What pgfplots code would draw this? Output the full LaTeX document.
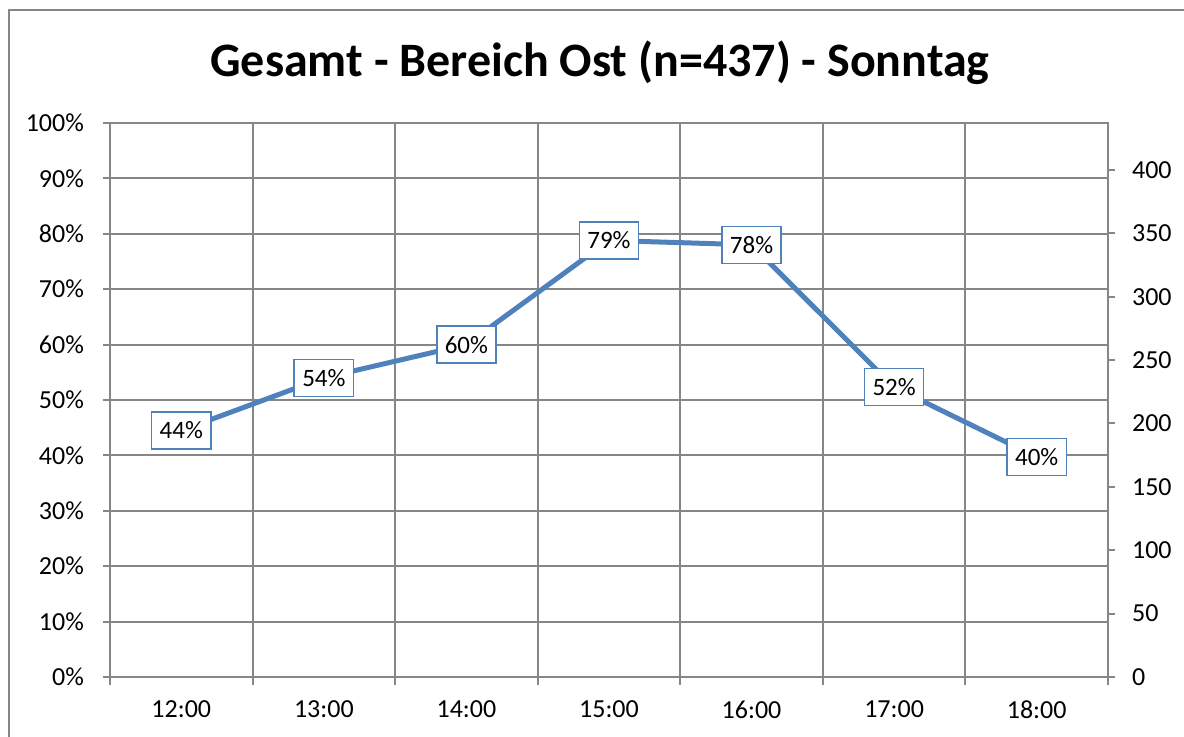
\documentclass[border=0pt]{standalone}
\usepackage{fontspec}
\setmainfont{Carlito}
\usepackage{pgfplots}
\pgfplotsset{compat=1.18}
\definecolor{gridgray}{HTML}{868686}
\definecolor{linebl}{HTML}{4F81BD}
\begin{document}
\begin{tikzpicture}
\useasboundingbox (0,0) rectangle (592pt,368.5pt);
\draw[gridgray, line width=1pt] (4.5pt,0) -- (4.5pt,363.5pt) -- (592pt,363.5pt);
\node[font=\bfseries\fontsize{24}{28}\selectfont] at (300pt,337pt) {Gesamt - Bereich Ost (n=437) - Sonntag};
\begin{axis}[at={(55pt,30pt)}, anchor=south west, scale only axis,
  width=499pt, height=277pt,
  xmin=0, xmax=7, ymin=0, ymax=100,
  xtick={0.5,1.5,...,6.5},
  xticklabels={12:00,13:00,14:00,15:00,16:00,17:00,18:00},
  minor xtick={0,1,...,7},
  ytick={0,10,...,100},
  yticklabel={\pgfmathprintnumber{\tick}\%},
  xminorgrids=true, ymajorgrids=true,
  grid style={gridgray, line width=1pt},
  axis line style={gridgray, line width=1pt},
  tick style={gridgray, line width=1pt},
  major x tick style={draw=none},
  tick align=outside, major tick length=3.5pt, minor tick length=4pt,
  xtick pos=bottom, ytick pos=left,
  /pgf/number format/assume math mode=true,
  ticklabel style={font=\fontsize{13}{15}\selectfont, text=black},
  yticklabel style={xshift=-6pt},
  xticklabel style={yshift=-5pt},
  point meta=explicit symbolic,
  nodes near coords,
  every node near coord/.append style={anchor=center, draw=linebl, line width=0.75pt, fill=white,
     font=\fontsize{12.5}{14}\selectfont, text=black, inner xsep=4pt, minimum height=18.5pt},
  clip=false,
]
\addplot[linebl, line width=2.5pt, mark=none] coordinates {
 (0.5,44.5) [44\%]
 (1.5,54.0) [54\%]
 (2.5,60.0) [60\%]
 (3.5,78.8) [79\%]
 (4.5,78.0) [78\%]
 (5.5,52.3) [52\%]
 (6.5,39.7) [40\%]
};
\end{axis}
\begin{axis}[at={(55pt,30pt)}, anchor=south west, scale only axis,
  width=499pt, height=277pt,
  xmin=0, xmax=7, ymin=0, ymax=437,
  axis x line=none, axis y line*=right,
  ytick={0,50,...,400},
  axis line style={gridgray, line width=1pt},
  tick style={gridgray, line width=1pt},
  tick align=outside, major tick length=3.5pt,
  /pgf/number format/assume math mode=true,
  ticklabel style={font=\fontsize{13}{15}\selectfont, text=black},
  yticklabel style={xshift=5pt},
]
\end{axis}
\end{tikzpicture}
\end{document}
